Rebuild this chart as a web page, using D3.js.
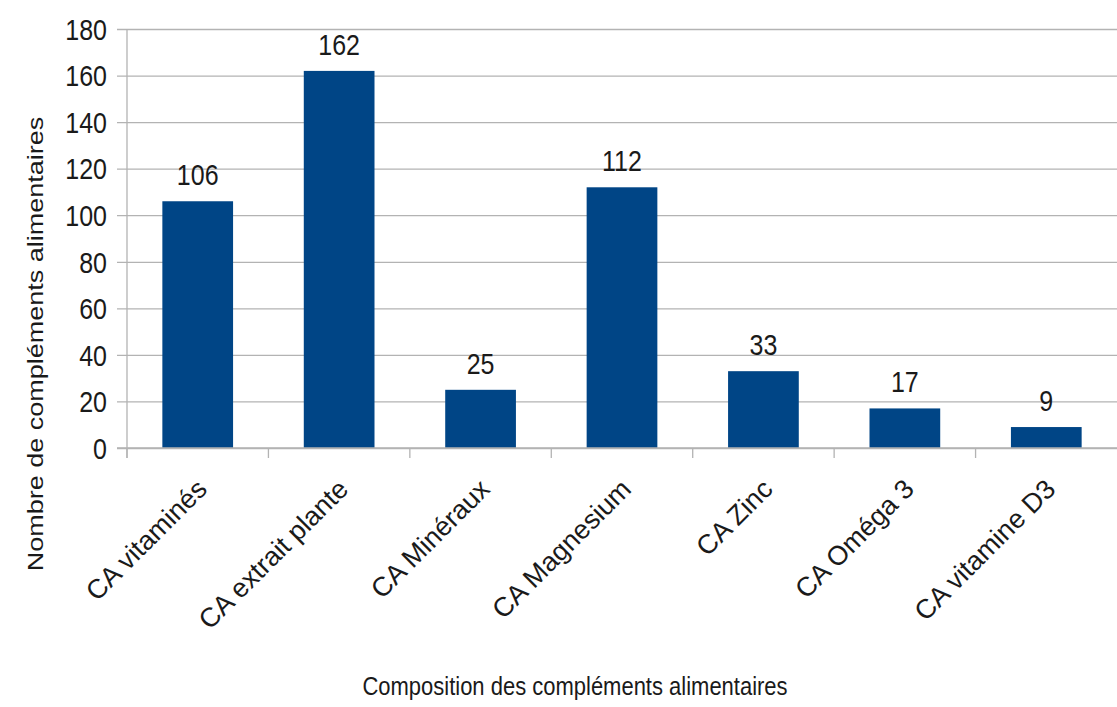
<!DOCTYPE html>
<html><head><meta charset="utf-8">
<script src="https://cdn.jsdelivr.net/npm/d3@7"></script>
<style>body{margin:0;background:#fff}svg{display:block}text{font-family:"Liberation Sans",Arial,sans-serif;fill:#1a1a1a}</style>
</head><body><svg id="c" width="1117" height="707"></svg>
<script>
const categories = ["CA vitaminés","CA extrait plante","CA Minéraux","CA Magnesium","CA Zinc","CA Oméga 3","CA vitamine D3"];
const values = [106,162,25,112,33,17,9];
const yTicks = [0,20,40,60,80,100,120,140,160,180];
const xTitle = "Composition des compléments alimentaires";
const yTitle = "Nombre de compléments alimentaires";

const K = 1.2; // vertical stretch of the reference
const svg = d3.select("#c");
const L = 127, R = 1117, T = 29, B = 448;
const x = d3.scaleBand().domain(categories).range([L, R]).paddingInner(0.5).paddingOuter(0.25);
const y = d3.scaleLinear().domain([0, 180]).range([B, T]);
const grid = "#b3b3b3";

// grid lines + y ticks
const gy = svg.append("g").attr("transform", `translate(${L},0)`)
  .call(d3.axisLeft(y).tickValues(yTicks).tickSize(10).tickFormat(""));
gy.select(".domain").remove();
gy.selectAll(".tick line").attr("x1", -10).attr("x2", R - L).attr("stroke", grid).attr("stroke-width", 1.3);

// bars
svg.append("g").selectAll("rect").data(values).join("rect")
  .attr("x", (d, i) => x(categories[i]))
  .attr("y", d => y(d))
  .attr("width", x.bandwidth())
  .attr("height", d => y(0) - y(d))
  .attr("fill", "#004586");

// axis lines
svg.append("line").attr("x1", L).attr("x2", L).attr("y1", T).attr("y2", B + 10).attr("stroke", grid).attr("stroke-width", 1.3);
svg.append("line").attr("x1", L - 10).attr("x2", R).attr("y1", B).attr("y2", B).attr("stroke", grid).attr("stroke-width", 1.3);
const step = x.step();
const bounds = d3.range(categories.length).map(i => L + i * step);
svg.append("g").selectAll("line").data(bounds).join("line")
  .attr("x1", d => d).attr("x2", d => d).attr("y1", B).attr("y2", B + 10)
  .attr("stroke", grid).attr("stroke-width", 1.3);

// y tick labels
svg.append("g").selectAll("text").data(yTicks).join("text")
  .attr("transform", d => `translate(107,${y(d)}) scale(1,${K})`)
  .attr("text-anchor", "end").attr("dy", "0.36em")
  .style("font-size", "25px").text(d => d);

// data labels
svg.append("g").selectAll("text").data(values).join("text")
  .attr("transform", (d, i) => `translate(${x(categories[i]) + x.bandwidth() / 2},${y(d) - 16}) scale(1,${K})`)
  .attr("text-anchor", "middle")
  .style("font-size", "25px").text(d => d);

// category labels
svg.append("g").selectAll("text").data(categories).join("text")
  .attr("transform", d => `translate(${x(d) + x.bandwidth() / 2 - 3},${B + 29}) rotate(-45)`)
  .attr("text-anchor", "end").attr("dy", "0.72em")
  .style("font-size", "27px").text(d => d);

// axis titles
svg.append("text").attr("transform", `translate(575,695) scale(1,${K})`)
  .attr("text-anchor", "middle").style("font-size", "22px").text(xTitle);
svg.append("text").attr("transform", `translate(43,344) scale(1,${K}) rotate(-90)`)
  .attr("text-anchor", "middle").style("font-size", "22.5px").text(yTitle);
</script></body></html>
